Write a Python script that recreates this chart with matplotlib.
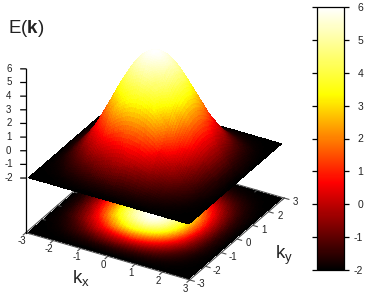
import numpy as np
import matplotlib
matplotlib.use('Agg')
import matplotlib.pyplot as plt
from matplotlib.colors import LinearSegmentedColormap, Normalize
from matplotlib.cm import ScalarMappable
from matplotlib.tri import Triangulation, UniformTriRefiner, CubicTriInterpolator
from mpl_toolkits.mplot3d.art3d import Poly3DCollection
from mpl_toolkits.mplot3d import proj3d

# grid
k_grid = [-2.92, -2.5, -2.0, -1.5, -1.0, -0.5, 0.0, 0.5, 1.0, 1.5, 2.0, 2.5, 2.92]
energy = [
    [-2.00, -2.00, -2.00, -2.00, -2.00, -2.00, -2.00, -2.00, -2.00, -2.00, -2.00, -2.00, -2.00],
    [-2.00, -1.97, -1.89, -1.76, -1.63, -1.54, -1.50, -1.54, -1.63, -1.76, -1.89, -1.97, -2.00],
    [-2.00, -1.89, -1.58, -1.14, -0.67, -0.31, -0.17, -0.31, -0.67, -1.14, -1.58, -1.89, -2.00],
    [-2.00, -1.76, -1.14, -0.21, 0.76, 1.50, 1.78, 1.50, 0.76, -0.21, -1.14, -1.76, -2.00],
    [-2.00, -1.63, -0.67, 0.76, 2.27, 3.42, 3.85, 3.42, 2.27, 0.76, -0.67, -1.63, -2.00],
    [-2.00, -1.54, -0.31, 1.50, 3.42, 4.87, 5.42, 4.87, 3.42, 1.50, -0.31, -1.54, -2.00],
    [-2.00, -1.50, -0.17, 1.78, 3.85, 5.42, 6.00, 5.42, 3.85, 1.78, -0.17, -1.50, -2.00],
    [-2.00, -1.54, -0.31, 1.50, 3.42, 4.87, 5.42, 4.87, 3.42, 1.50, -0.31, -1.54, -2.00],
    [-2.00, -1.63, -0.67, 0.76, 2.27, 3.42, 3.85, 3.42, 2.27, 0.76, -0.67, -1.63, -2.00],
    [-2.00, -1.76, -1.14, -0.21, 0.76, 1.50, 1.78, 1.50, 0.76, -0.21, -1.14, -1.76, -2.00],
    [-2.00, -1.89, -1.58, -1.14, -0.67, -0.31, -0.17, -0.31, -0.67, -1.14, -1.58, -1.89, -2.00],
    [-2.00, -1.97, -1.89, -1.76, -1.63, -1.54, -1.50, -1.54, -1.63, -1.76, -1.89, -1.97, -2.00],
    [-2.00, -2.00, -2.00, -2.00, -2.00, -2.00, -2.00, -2.00, -2.00, -2.00, -2.00, -2.00, -2.00],
]
k_ticks = [-3, -2, -1, 0, 1, 2, 3]
z_ticks = [-2, -1, 0, 1, 2, 3, 4, 5, 6]

W, H = 366, 294
plt.rcParams['font.family'] = ['Liberation Sans', 'DejaVu Sans']
plt.rcParams['mathtext.fontset'] = 'custom'
plt.rcParams['mathtext.rm'] = 'Liberation Sans'
plt.rcParams['mathtext.bf'] = 'Liberation Sans:bold'
plt.rcParams['axes.unicode_minus'] = False

hot = LinearSegmentedColormap.from_list('hot3', ['#000000', '#ff0000', '#ffff00', '#ffffff'], N=256)
norm = Normalize(-2, 6)
FLOOR = -6
INK = '#222222'

fig = plt.figure(figsize=(W / 100, H / 100), dpi=100)

# axes centred on the middle of the cube
side = 300
cx, cy = 151, 137.5
ax = fig.add_axes([(cx - side / 2) / W, 1 - (cy + side / 2) / H, side / W, side / H],
                  projection='3d', computed_zorder=False)
ax.set_proj_type('ortho')
ax.view_init(elev=30, azim=-60)
ax.set_xlim(-3, 3, view_margin=0)
ax.set_ylim(-3, 3, view_margin=0)
ax.set_zlim(FLOOR, 6, view_margin=0)
ax.set_box_aspect((1, 1, 1), zoom=1.06)
ax.set_axis_off()
ax.patch.set_alpha(0)

gx, gy = np.meshgrid(k_grid, k_grid, indexing='ij')
tri = Triangulation(gx.ravel(), gy.ravel())
e_flat = np.array(energy).ravel()
smooth = CubicTriInterpolator(tri, e_flat, kind='geom')
fine_tri, fine_e = UniformTriRefiner(tri).refine_field(e_flat, triinterpolator=smooth, subdiv=3)
faces = fine_tri.triangles
colors = hot(norm(fine_e[faces].mean(axis=1)))


def sheet(heights, zorder):
    verts = np.stack([fine_tri.x[faces], fine_tri.y[faces], heights], axis=-1)
    # no antialiasing, otherwise what lies behind shows through the small facets
    poly = Poly3DCollection(verts, facecolors=colors, edgecolors=colors, linewidths=0.5,
                            antialiaseds=False, zorder=zorder)
    ax.add_collection3d(poly)


def label(x, y, z, s):
    # 2D text at the projected spot
    px, py, _ = proj3d.proj_transform(x, y, z, ax.get_proj())
    ax.text2D(px, py, s, transform=ax.transData, fontsize=7, ha='center', va='center', color=INK, zorder=6)


# floor map, stops just short of the border
sheet(np.full(faces.shape, FLOOR, dtype=float), 2)

line = dict(color='#505050', lw=0.8, zorder=3)
ax.plot([-3, 3, 3, -3, -3], [-3, -3, 3, 3, -3], [FLOOR] * 5, **line)
for t in k_ticks:
    ax.plot([t, t], [-3, -3.17], [FLOOR, FLOOR], **line)
    ax.plot([t, t], [3, 2.87], [FLOOR, FLOOR], **line)
    ax.plot([3, 3.17], [t, t], [FLOOR, FLOOR], **line)
    ax.plot([-3, -2.87], [t, t], [FLOOR, FLOOR], **line)
    label(t + 0.17, -3.55, FLOOR, str(t))
    label(3.45, t - 0.05, FLOOR, str(t))

sheet(np.array(fine_e)[faces], 4)

ax.plot([-3, -3], [-3, -3], [FLOOR, 6], color='k', lw=0.9, zorder=5)
for t in z_ticks:
    ax.plot([-3, -3.14], [-3, -3.08], [t, t], color='k', lw=0.9, zorder=5)
    label(-3.47, -3.27, t, str(t))

fig.text(8 / W, 1 - 33 / H, r'E($\mathbf{k}$)', fontsize=13.5, ha='left', va='baseline', color=INK)
fig.text(72 / W, 1 - 284 / H, r'k$_{\mathrm{x}}$', fontsize=13.5, ha='left', va='baseline', color=INK)
fig.text(275 / W, 1 - 259 / H, r'k$_{\mathrm{y}}$', fontsize=13.5, ha='left', va='baseline', color=INK)

cax = fig.add_axes([316.5 / W, 1 - 270 / H, 27 / W, 263 / H])
cb = fig.colorbar(ScalarMappable(norm=norm, cmap=hot), cax=cax, ticks=z_ticks)
cb.outline.set_linewidth(0.9)
cax.yaxis.set_ticks_position('both')
cax.tick_params(axis='y', which='major', direction='out', length=3.6, width=0.9, labelsize=7.5, pad=10.5,
                left=True, right=True, labelleft=False, labelright=True, labelcolor=INK)
cax.minorticks_off()
for lab in cax.get_yticklabels():
    lab.set_ha('right')

fig.savefig('out.png', dpi=100)
